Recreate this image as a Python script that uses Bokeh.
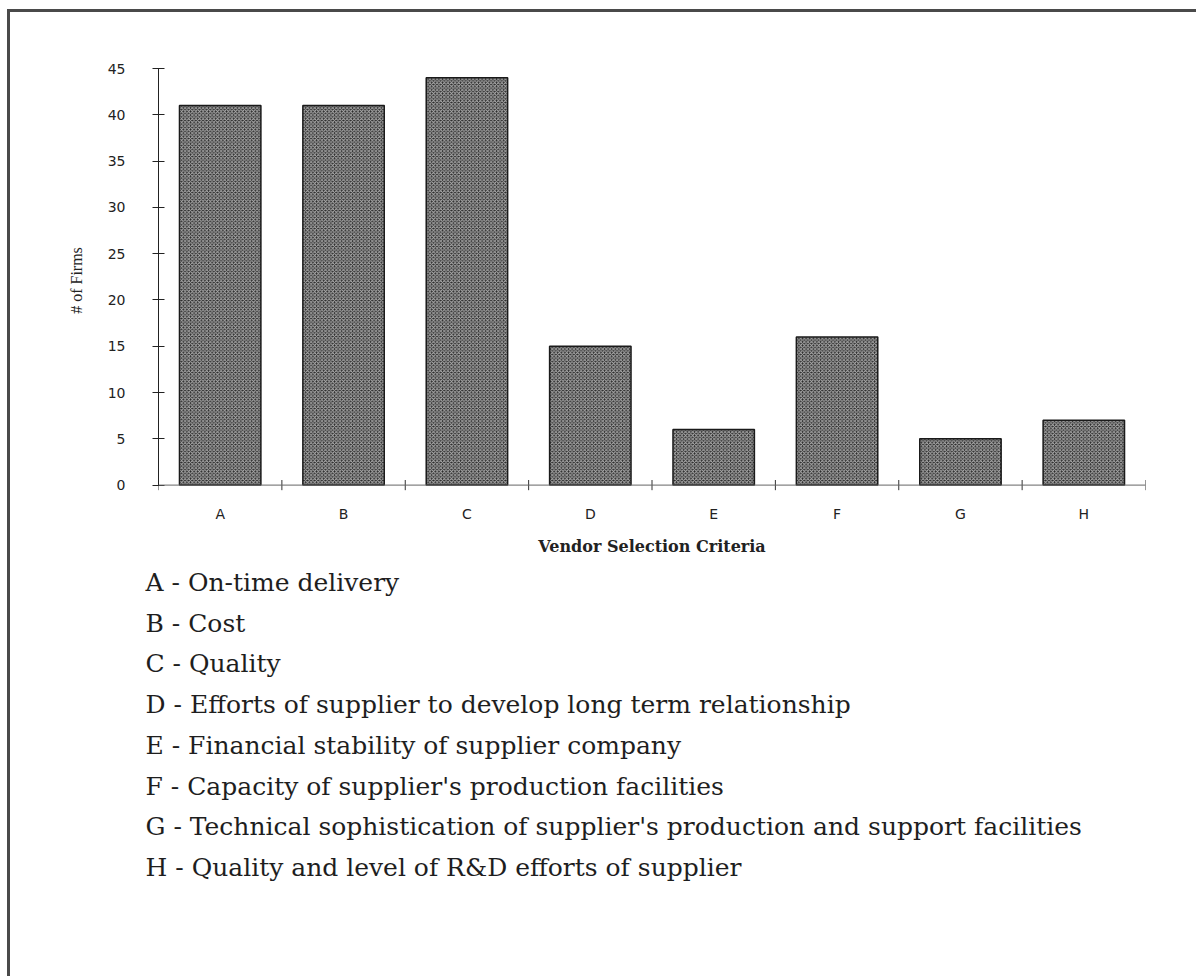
from bokeh.plotting import figure
from bokeh.layouts import column
from bokeh.models import FactorRange, Range1d, FixedTicker, Span
from bokeh.core.properties import value
from bokeh.embed import file_html
from bokeh.resources import INLINE

# Survey results: number of firms citing each vendor selection criterion
criteria = ["A", "B", "C", "D", "E", "F", "G", "H"]
firms = [41, 41, 44, 15, 6, 16, 5, 7]
y_ticks = [0, 5, 10, 15, 20, 25, 30, 35, 40, 45]
descriptions = [
    "A - On-time delivery",
    "B - Cost",
    "C - Quality",
    "D - Efforts of supplier to develop long term relationship",
    "E - Financial stability of supplier company",
    "F - Capacity of supplier's production facilities",
    "G - Technical sophistication of supplier's production and support facilities",
    "H - Quality and level of R&D efforts of supplier",
]

# page offsets (margin + frame line)
OX, OY = 10, 12
W = 1196 - OX
CHART_H = 565 - OY
KEY_H = 976 - 565
FRAME_BOTTOM = 492 - OY

p = figure(
    width=W, height=CHART_H,
    x_range=FactorRange(*criteria, range_padding=0),
    y_range=Range1d(-0.8, 45),
    output_backend="svg", toolbar_location=None,
    min_border_left=158 - OX, min_border_right=51,
    min_border_top=68 - OY, min_border_bottom=CHART_H - FRAME_BOTTOM,
)
p.frame_align = False
p.outline_line_color = None
p.grid.visible = False
p.background_fill_color = "white"
p.border_fill_color = "white"

# bars with a fine checkered fill
p.vbar(x=criteria, top=firms, width=0.66,
       fill_color="#262626", line_color="#1a1a1a", line_width=1.5,
       hatch_pattern="diagonal_cross", hatch_color="#b0b0b0",
       hatch_scale=3.6, hatch_weight=1.0)

# category axis: labels at centres, ticks at category boundaries
xa = p.xaxis[0]
xa.axis_line_color = None
xa.major_tick_line_color = None
xa.minor_tick_line_color = None
xa.major_label_standoff = 7
xa.major_label_text_font = "DejaVu Sans"
xa.major_label_text_font_size = "14px"
xa.major_label_text_color = "#222222"
xa.axis_label = "Vendor Selection Criteria"
xa.axis_label_text_font = "DejaVu Serif"
xa.axis_label_text_font_style = "bold"
xa.axis_label_text_font_size = "16px"
xa.axis_label_text_color = "#222222"
xa.axis_label_standoff = 12

p.add_layout(Span(location=0, dimension="width", line_color="#666666", line_width=1))
boundaries = list(range(len(criteria) + 1))
p.segment(x0=boundaries, y0=[-0.55] * len(boundaries),
          x1=boundaries, y1=[0.55] * len(boundaries),
          line_color="#333333", line_width=1)

ya = p.yaxis[0]
ya.bounds = (0, 45)
ya.ticker = FixedTicker(ticks=y_ticks)
ya.major_tick_in = 6
ya.major_tick_out = 6
ya.minor_tick_line_color = None
ya.axis_line_color = "#222222"
ya.major_tick_line_color = "#222222"
ya.major_label_standoff = 27
ya.major_label_text_font = "DejaVu Sans"
ya.major_label_text_font_size = "14px"
ya.major_label_text_color = "#222222"
ya.axis_label = "# of Firms"
ya.axis_label_text_font = "Liberation Serif"
ya.axis_label_text_font_style = "normal"
ya.axis_label_text_font_size = "16px"
ya.axis_label_text_color = "#222222"
ya.axis_label_standoff = 20

# key to the criteria letters, below the chart (pixel-like coordinates)
key = figure(
    width=W, height=KEY_H,
    x_range=Range1d(0, W), y_range=Range1d(KEY_H, 0),
    x_axis_type=None, y_axis_type=None,
    output_backend="svg", toolbar_location=None,
    min_border_left=0, min_border_right=0,
    min_border_top=0, min_border_bottom=0,
)
key.frame_align = False
key.grid.visible = False
key.outline_line_color = None
row_y = [17 + 40.7 * i for i in range(len(descriptions))]
key.text(x=[145 - OX] * len(descriptions), y=row_y, text=descriptions,
         text_baseline="middle", text_align="left",
         text_font=value("DejaVu Serif"), text_font_size="25px",
         text_color="#1e1e1e")

page = column(p, key, spacing=0, styles={
    "margin-left": "7px", "margin-top": "9px",
    "border-left": "3px solid #4a4a4a", "border-top": "3px solid #4a4a4a",
})

open("out.html", "w").write(file_html(page, INLINE))
